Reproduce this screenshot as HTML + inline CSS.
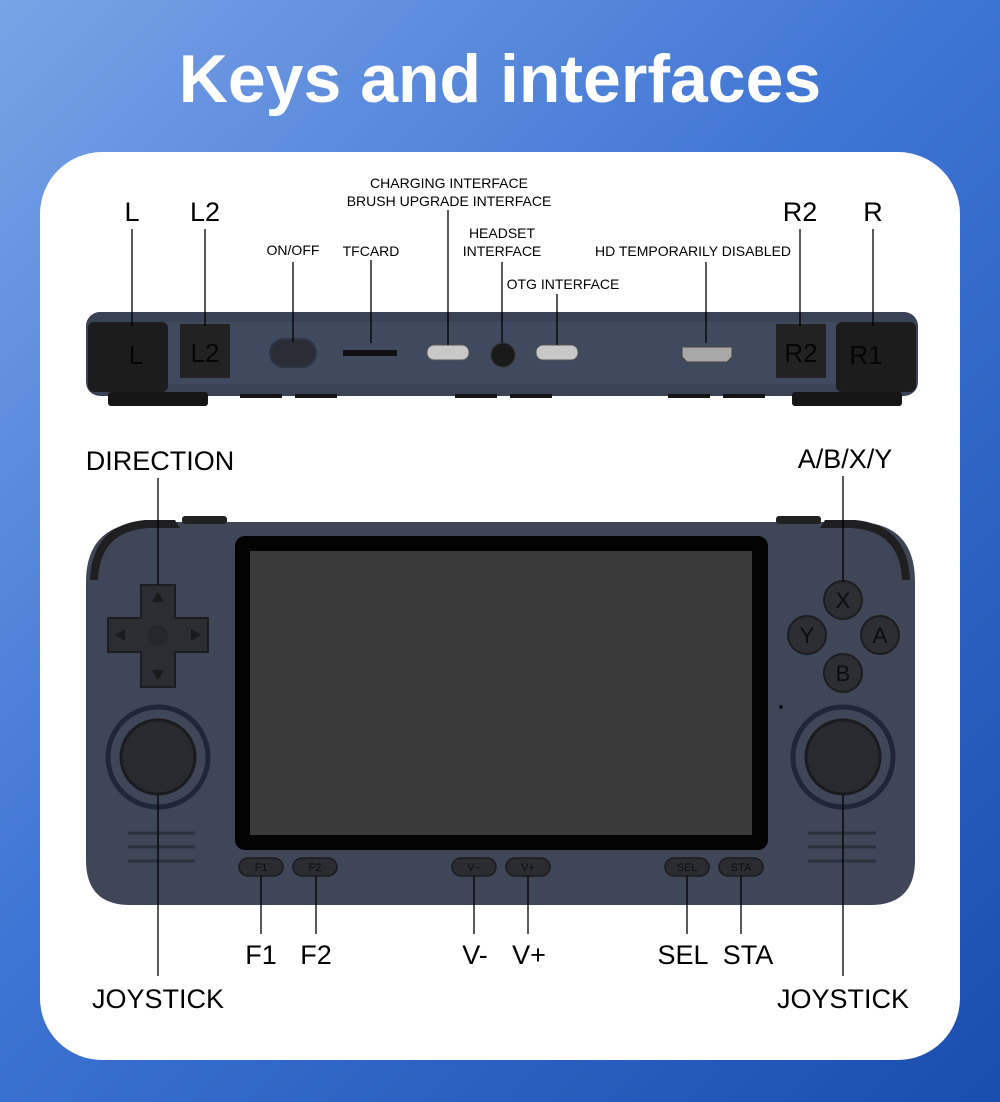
<!DOCTYPE html>
<html><head><meta charset="utf-8"><style>
html,body{margin:0;padding:0;width:1000px;height:1102px;overflow:hidden}
body{background:linear-gradient(135deg,#79a3e6 0%,#3f75d4 45%,#1a4eae 100%)}
svg{display:block}
text{font-family:"Liberation Sans",sans-serif}
</style></head><body>
<svg width="1000" height="1102" viewBox="0 0 1000 1102">
<text x="500" y="102" text-anchor="middle" font-size="68" font-weight="bold" fill="#fff">Keys and interfaces</text>
<rect x="40" y="152" width="920" height="908" rx="62" fill="#fff"/>

<!-- top device -->
<rect x="86" y="312" width="832" height="84" rx="14" fill="#3a4356"/>
<rect x="92" y="322" width="820" height="62" fill="#3f4a5f"/>
<g fill="#151515">
<rect x="108" y="392" width="100" height="14" rx="3"/>
<rect x="240" y="394" width="42" height="4"/><rect x="295" y="394" width="42" height="4"/>
<rect x="455" y="394" width="42" height="4"/><rect x="510" y="394" width="42" height="4"/>
<rect x="668" y="394" width="42" height="4"/><rect x="723" y="394" width="42" height="4"/>
<rect x="792" y="392" width="110" height="14" rx="3"/>
</g>
<rect x="88" y="322" width="80" height="70" rx="6" fill="#1c1c1c"/>
<text x="136" y="364" font-size="26" fill="#050505" text-anchor="middle">L</text>
<rect x="180" y="324" width="50" height="54" fill="#222"/>
<text x="205" y="362" font-size="26" fill="#050505" text-anchor="middle">L2</text>
<rect x="776" y="324" width="50" height="54" fill="#222"/>
<text x="801" y="362" font-size="26" fill="#050505" text-anchor="middle">R2</text>
<rect x="836" y="322" width="80" height="70" rx="6" fill="#1c1c1c"/>
<text x="866" y="364" font-size="26" fill="#050505" text-anchor="middle">R1</text>
<rect x="270" y="339" width="46" height="28" rx="14" fill="#2a2d35" stroke="#2d3446" stroke-width="2"/>
<rect x="343" y="350" width="54" height="6" fill="#111"/>
<rect x="427" y="345" width="42" height="15" rx="7" fill="#c8c8c8" stroke="#555"/>
<circle cx="503" cy="355" r="12" fill="#1a1a1a" stroke="#333"/>
<rect x="536" y="345" width="42" height="15" rx="7" fill="#c8c8c8" stroke="#555"/>
<path d="M682 347 H732 V357 L727 362 H687 L682 357Z" fill="#a8a8a8" stroke="#444"/>

<!-- front device -->
<path d="M150 522 H855 Q915 522 915 582 V860 Q915 905 870 905 H130 Q86 905 86 860 V582 Q86 522 150 522Z" fill="#3f4658"/>
<path d="M90 580 Q92 525 145 520 H175 L180 528 H150 Q100 530 98 580Z" fill="#1f1f22"/>
<path d="M910 580 Q908 525 855 520 H825 L820 528 H850 Q900 530 902 580Z" fill="#1f1f22"/>
<rect x="182" y="516" width="45" height="8" rx="3" fill="#222"/>
<rect x="776" y="516" width="45" height="8" rx="3" fill="#222"/>
<rect x="235" y="536" width="533" height="314" rx="10" fill="#030303"/>
<rect x="250" y="551" width="502" height="284" fill="#3a3a3a"/>
<path d="M141 585 H175 V618 H208 V652 H175 V687 H141 V652 H108 V618 H141Z" fill="#2b2d33" stroke="#1c1d21" stroke-width="2" stroke-linejoin="round"/>
<circle cx="158" cy="635" r="10" fill="#25272c"/>
<g fill="#1a1a1c"><path d="M158 592 l-6 10 h12z"/><path d="M158 680 l-6 -10 h12z"/><path d="M115 635 l10 -6 v12z"/><path d="M201 635 l-10 -6 v12z"/></g>
<circle cx="158" cy="757" r="50" fill="none" stroke="#1e2638" stroke-width="5"/>
<circle cx="158" cy="757" r="37" fill="#282a2f" stroke="#1a1b1e" stroke-width="3"/>
<circle cx="843" cy="757" r="50" fill="none" stroke="#1e2638" stroke-width="5"/>
<circle cx="843" cy="757" r="37" fill="#282a2f" stroke="#1a1b1e" stroke-width="3"/>
<g fill="#2c2e33" stroke="#1c1d20" stroke-width="2">
<circle cx="843" cy="600" r="19"/><circle cx="807" cy="635" r="19"/><circle cx="880" cy="635" r="19"/><circle cx="843" cy="673" r="19"/></g>
<g font-size="22" fill="#0c0c0c" text-anchor="middle">
<text x="843" y="608">X</text><text x="807" y="643">Y</text><text x="880" y="643">A</text><text x="843" y="681">B</text></g>
<circle cx="781" cy="707" r="2" fill="#111"/>
<g stroke="#2c313c" stroke-width="3"><line x1="128" y1="833" x2="195" y2="833"/><line x1="128" y1="847" x2="195" y2="847"/><line x1="128" y1="861" x2="195" y2="861"/>
<line x1="808" y1="833" x2="876" y2="833"/><line x1="808" y1="847" x2="876" y2="847"/><line x1="808" y1="861" x2="876" y2="861"/></g>
<g fill="#2a2c31" stroke="#1a1b1e" stroke-width="1.5">
<rect x="239" y="858" width="44" height="18" rx="9"/><rect x="293" y="858" width="44" height="18" rx="9"/>
<rect x="452" y="858" width="44" height="18" rx="9"/><rect x="506" y="858" width="44" height="18" rx="9"/>
<rect x="665" y="858" width="44" height="18" rx="9"/><rect x="719" y="858" width="44" height="18" rx="9"/></g>
<g font-size="11" fill="#0e0e0e" text-anchor="middle">
<text x="261" y="871">F1</text><text x="315" y="871">F2</text><text x="474" y="871">V−</text><text x="528" y="871">V+</text><text x="687" y="871">SEL</text><text x="741" y="871">STA</text></g>

<g stroke="#000" stroke-width="1.3">
<line x1="132" y1="229" x2="132" y2="326"/><line x1="205" y1="229" x2="205" y2="326"/>
<line x1="293" y1="262" x2="293" y2="342"/><line x1="371" y1="260" x2="371" y2="343"/>
<line x1="448" y1="210" x2="448" y2="345"/><line x1="502" y1="262" x2="502" y2="343"/>
<line x1="557" y1="294" x2="557" y2="345"/><line x1="706" y1="262" x2="706" y2="343"/>
<line x1="800" y1="229" x2="800" y2="326"/><line x1="873" y1="229" x2="873" y2="326"/>
<line x1="158" y1="478" x2="158" y2="585"/><line x1="843" y1="476" x2="843" y2="582"/>
<line x1="158" y1="795" x2="158" y2="976"/><line x1="843" y1="795" x2="843" y2="976"/>
<line x1="261" y1="876" x2="261" y2="934"/><line x1="316" y1="876" x2="316" y2="934"/>
<line x1="474" y1="876" x2="474" y2="934"/><line x1="528" y1="876" x2="528" y2="934"/>
<line x1="687" y1="876" x2="687" y2="934"/><line x1="741" y1="876" x2="741" y2="934"/>
</g>
<g fill="#000" text-anchor="middle">
<g font-size="27"><text x="132" y="221">L</text><text x="205" y="221">L2</text><text x="800" y="221">R2</text><text x="873" y="221">R</text>
<text x="160" y="470">DIRECTION</text><text x="845" y="468">A/B/X/Y</text>
<text x="261" y="964">F1</text><text x="316" y="964">F2</text><text x="475" y="964">V-</text><text x="529" y="964">V+</text>
<text x="683" y="964">SEL</text><text x="748" y="964">STA</text>
<text x="158" y="1008">JOYSTICK</text><text x="843" y="1008">JOYSTICK</text></g>
<g font-size="14"><text x="293" y="255">ON/OFF</text><text x="371" y="256">TFCARD</text>
<text x="449" y="188">CHARGING INTERFACE</text><text x="449" y="206">BRUSH UPGRADE INTERFACE</text>
<text x="502" y="238">HEADSET</text><text x="502" y="256">INTERFACE</text>
<text x="563" y="289">OTG INTERFACE</text><text x="693" y="256">HD TEMPORARILY DISABLED</text></g>
</g>
</svg>
</body></html>
